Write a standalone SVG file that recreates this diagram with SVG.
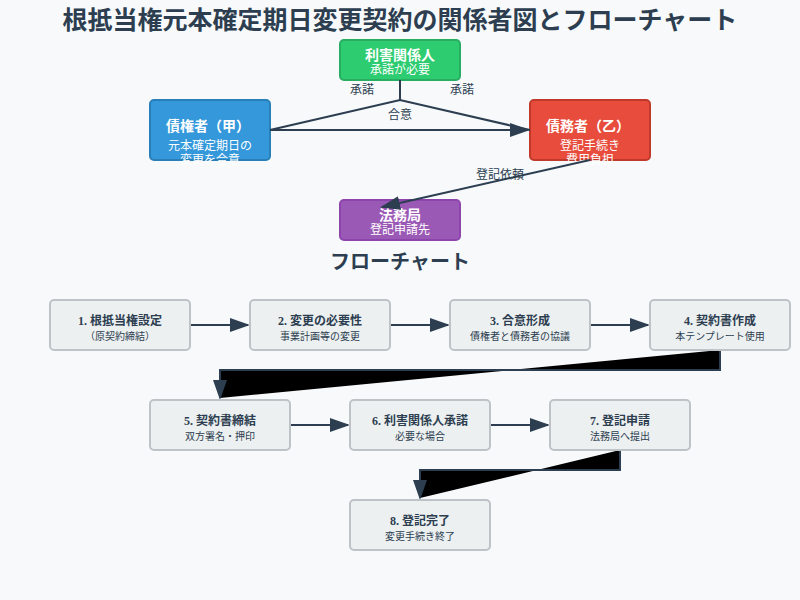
<svg xmlns="http://www.w3.org/2000/svg" width="800" height="600" viewBox="0 0 800 600">
<defs>
<marker id="ah" markerWidth="10" markerHeight="7" refX="9" refY="3.5" orient="auto"><polygon points="0 0,10 3.5,0 7" fill="#2c3e50"/></marker>
<style>
.s{font-family:"Liberation Sans","Noto Sans CJK JP",sans-serif}
.f{font-family:"Liberation Serif","Noto Sans CJK JP",serif}
.w{fill:#fff;text-anchor:middle}
.d{fill:#2c3e50;text-anchor:middle}
.fb{fill:#ecf0f1;stroke:#bdc3c7;stroke-width:2}
.ln{stroke:#2c3e50;stroke-width:2}
</style>
</defs>
<rect width="800" height="600" fill="#f7f9fb"/>
<text x="400" y="29" class="f d" font-size="25" font-weight="bold">根抵当権元本確定期日変更契約の関係者図とフローチャート</text>
<g id="stakeholder"><rect x="340" y="40" width="120" height="40" rx="4" fill="#2ecc71" stroke="#27ae60" stroke-width="2"/><text x="400" y="60" class="s w" font-size="14" font-weight="bold">利害関係人</text><text x="400" y="74" class="s w" font-size="12">承諾が必要</text></g>
<g id="creditor"><rect x="150" y="100" width="120" height="60" rx="4" fill="#3498db" stroke="#2980b9" stroke-width="2"/><text x="208" y="131" class="s w" font-size="14" font-weight="bold">債権者（甲）</text><text x="210" y="150" class="s w" font-size="12">元本確定期日の</text><text x="210" y="164" class="s w" font-size="12">変更を合意</text></g>
<g id="debtor"><rect x="530" y="100" width="120" height="60" rx="4" fill="#e74c3c" stroke="#c0392b" stroke-width="2"/><text x="588" y="131" class="s w" font-size="14" font-weight="bold">債務者（乙）</text><text x="590" y="150" class="s w" font-size="12">登記手続き</text><text x="590" y="164" class="s w" font-size="12">費用負担</text></g>
<g id="legal"><rect x="340" y="200" width="120" height="40" rx="4" fill="#9b59b6" stroke="#8e44ad" stroke-width="2"/><text x="400" y="220" class="s w" font-size="14" font-weight="bold">法務局</text><text x="400" y="234" class="s w" font-size="12">登記申請先</text></g>
<g id="connectors" fill="none">
<line x1="400" y1="80" x2="400" y2="100" class="ln"/>
<polyline points="270,130 400,100 530,130" class="ln"/>
<line x1="270" y1="130" x2="528" y2="130" class="ln" marker-end="url(#ah)"/>
<line x1="590" y1="160" x2="382" y2="207" class="ln" marker-end="url(#ah)"/>
<line x1="190" y1="325" x2="248" y2="325" class="ln" marker-end="url(#ah)"/>
<line x1="390" y1="325" x2="448" y2="325" class="ln" marker-end="url(#ah)"/>
<line x1="590" y1="325" x2="648" y2="325" class="ln" marker-end="url(#ah)"/>
<path d="M720 350 V370 H220 V398" class="ln" fill="#000" marker-end="url(#ah)"/>
<line x1="290" y1="425" x2="348" y2="425" class="ln" marker-end="url(#ah)"/>
<line x1="490" y1="425" x2="548" y2="425" class="ln" marker-end="url(#ah)"/>
<path d="M620 450 V470 H420 V498" class="ln" fill="#000" marker-end="url(#ah)"/>
</g>
<g class="s" font-size="12" fill="#2c3e50" text-anchor="middle"><text x="362" y="94">承諾</text><text x="462" y="94">承諾</text><text x="400" y="119">合意</text><text x="500" y="179">登記依頼</text></g>
<text x="400" y="269" class="f d" font-size="20" font-weight="bold">フローチャート</text>
<g id="s1"><rect x="50" y="300" width="140" height="50" rx="4" class="fb"/><text x="120" y="325" class="f d" font-size="12" font-weight="bold">1. 根抵当権設定</text><text x="120" y="340" class="s d" font-size="10">（原契約締結）</text></g>
<g id="s2"><rect x="250" y="300" width="140" height="50" rx="4" class="fb"/><text x="320" y="325" class="f d" font-size="12" font-weight="bold">2. 変更の必要性</text><text x="320" y="340" class="s d" font-size="10">事業計画等の変更</text></g>
<g id="s3"><rect x="450" y="300" width="140" height="50" rx="4" class="fb"/><text x="520" y="325" class="f d" font-size="12" font-weight="bold">3. 合意形成</text><text x="520" y="340" class="s d" font-size="10">債権者と債務者の協議</text></g>
<g id="s4"><rect x="650" y="300" width="140" height="50" rx="4" class="fb"/><text x="720" y="325" class="f d" font-size="12" font-weight="bold">4. 契約書作成</text><text x="720" y="340" class="s d" font-size="10">本テンプレート使用</text></g>
<g id="s5"><rect x="150" y="400" width="140" height="50" rx="4" class="fb"/><text x="220" y="425" class="f d" font-size="12" font-weight="bold">5. 契約書締結</text><text x="220" y="440" class="s d" font-size="10">双方署名・押印</text></g>
<g id="s6"><rect x="350" y="400" width="140" height="50" rx="4" class="fb"/><text x="420" y="425" class="f d" font-size="12" font-weight="bold">6. 利害関係人承諾</text><text x="420" y="440" class="s d" font-size="10">必要な場合</text></g>
<g id="s7"><rect x="550" y="400" width="140" height="50" rx="4" class="fb"/><text x="620" y="425" class="f d" font-size="12" font-weight="bold">7. 登記申請</text><text x="620" y="440" class="s d" font-size="10">法務局へ提出</text></g>
<g id="s8"><rect x="350" y="500" width="140" height="50" rx="4" class="fb"/><text x="420" y="525" class="f d" font-size="12" font-weight="bold">8. 登記完了</text><text x="420" y="540" class="s d" font-size="10">変更手続き終了</text></g>
</svg>
